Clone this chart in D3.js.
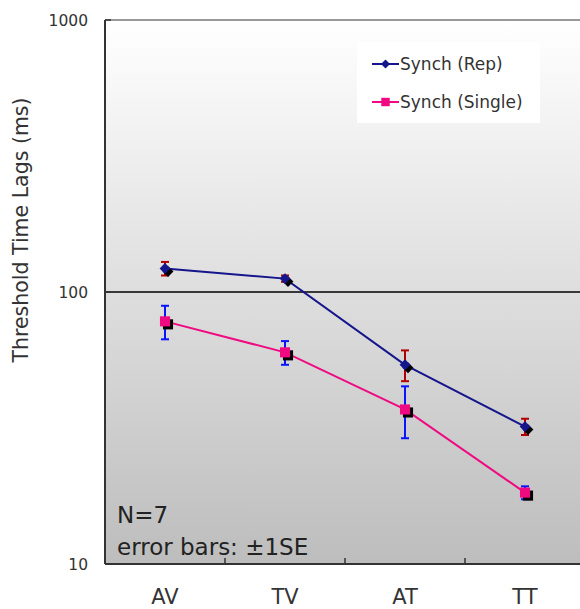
<!DOCTYPE html>
<html>
<head>
<meta charset="utf-8">
<script src="https://cdn.jsdelivr.net/npm/d3@7"></script>
<style>
  body { margin: 0; background: #fff; }
  svg { display: block; font-family: "DejaVu Sans", Verdana, sans-serif; }
</style>
</head>
<body>
<svg id="chart"></svg>
<script>
// values
const categories = ["AV", "TV", "AT", "TT"];
const repMean = [122, 112, 54, 32];
const repSE = [7, 3, 7, 2.2];
const singleMean = [78, 60, 37, 18.3];
const singleSE = [11, 6, 8, 1];
const yTicks = [10, 100, 1000];

const width = 580, height = 609;
const margin = { top: 20, left: 105, bottom: 45 };
const plotRight = 585; // the frame runs off the right edge

const svg = d3.select("#chart")
    .attr("width", width)
    .attr("height", height);

const x = d3.scaleBand()
    .domain(categories)
    .range([margin.left, plotRight]);

const y = d3.scaleLog()
    .domain([10, 1000])
    .range([height - margin.bottom, margin.top]);

const defs = svg.append("defs");
const bg = defs.append("linearGradient")
    .attr("id", "bgGrad")
    .attr("x1", "0%").attr("y1", "0%")
    .attr("x2", "0%").attr("y2", "100%");
bg.append("stop").attr("offset", "0%").attr("stop-color", "#ffffff");
bg.append("stop").attr("offset", "100%").attr("stop-color", "#bdbdbd");

// plot background
svg.append("rect")
    .attr("x", margin.left)
    .attr("y", y(1000))
    .attr("width", plotRight - margin.left)
    .attr("height", y(10) - y(1000))
    .attr("fill", "url(#bgGrad)");

// top border
svg.append("line")
    .attr("x1", margin.left).attr("x2", plotRight)
    .attr("y1", y(1000)).attr("y2", y(1000))
    .attr("stroke", "#777").attr("stroke-width", 1.5);

// gridline at 100
svg.append("line")
    .attr("x1", margin.left).attr("x2", plotRight)
    .attr("y1", y(100)).attr("y2", y(100))
    .attr("stroke", "#000").attr("stroke-width", 1.5);

// y axis
svg.append("line")
    .attr("x1", margin.left).attr("x2", margin.left)
    .attr("y1", y(1000)).attr("y2", y(10))
    .attr("stroke", "#333").attr("stroke-width", 2);

svg.selectAll(".ytick")
    .data(yTicks)
    .enter()
    .append("line")
    .attr("x1", margin.left).attr("x2", margin.left + 6)
    .attr("y1", d => y(d)).attr("y2", d => y(d))
    .attr("stroke", "#333").attr("stroke-width", 1.5);

svg.selectAll(".ylabel")
    .data(yTicks)
    .enter()
    .append("text")
    .attr("x", 88)
    .attr("y", d => y(d))
    .attr("dy", "0.36em")
    .attr("text-anchor", "end")
    .attr("font-size", 15.5)
    .attr("fill", "#333")
    .text(d => d);

svg.append("text")
    .attr("transform", `translate(28,${(95 + 365) / 2}) rotate(-90)`)
    .attr("text-anchor", "middle")
    .attr("font-size", 20.5)
    .attr("fill", "#333")
    .text("Threshold Time Lags (ms)");

// x axis
svg.append("line")
    .attr("x1", margin.left).attr("x2", plotRight)
    .attr("y1", y(10)).attr("y2", y(10))
    .attr("stroke", "#333").attr("stroke-width", 2);

svg.selectAll(".xtick")
    .data(categories.slice(1))
    .enter()
    .append("line")
    .attr("x1", d => x(d)).attr("x2", d => x(d))
    .attr("y1", y(10)).attr("y2", y(10) - 6)
    .attr("stroke", "#333").attr("stroke-width", 1.5);

svg.selectAll(".xlabel")
    .data(categories)
    .enter()
    .append("text")
    .attr("x", d => x(d) + x.bandwidth() / 2)
    .attr("y", 604)
    .attr("text-anchor", "middle")
    .attr("font-size", 21)
    .attr("fill", "#333")
    .text(d => d);

// series
const series = [
    { name: "Synch (Rep)", mean: repMean, se: repSE, color: "#15158c", err: "#b00000", shape: d3.symbolDiamond2, size: 75 },
    { name: "Synch (Single)", mean: singleMean, se: singleSE, color: "#f00a82", err: "#0a14ff", shape: d3.symbolSquare2, size: 130 }
];

const cx = c => x(c) + x.bandwidth() / 2;

series.forEach(s => {
    const pts = categories.map((c, i) => ({ c, v: s.mean[i], e: s.se[i] }));

    svg.append("path")
        .datum(pts)
        .attr("fill", "none")
        .attr("stroke", s.color)
        .attr("stroke-width", 2)
        .attr("d", d3.line().x(d => cx(d.c)).y(d => y(d.v)));

    const eb = svg.append("g").attr("stroke", s.err).attr("stroke-width", 2);
    pts.forEach(d => {
        const x0 = cx(d.c);
        const yt = y(d.v + d.e), yb = y(d.v - d.e);
        eb.append("line").attr("x1", x0).attr("x2", x0).attr("y1", yt).attr("y2", yb);
        eb.append("line").attr("x1", x0 - 4).attr("x2", x0 + 4).attr("y1", yt).attr("y2", yt);
        eb.append("line").attr("x1", x0 - 4).attr("x2", x0 + 4).attr("y1", yb).attr("y2", yb);
    });

    const sym = d3.symbol().type(s.shape).size(s.size);
    // drop shadow
    svg.selectAll(null)
        .data(pts)
        .enter()
        .append("path")
        .attr("transform", d => `translate(${cx(d.c) + 3},${y(d.v) + 3})`)
        .attr("d", sym)
        .attr("fill", "#000");
    svg.selectAll(null)
        .data(pts)
        .enter()
        .append("path")
        .attr("transform", d => `translate(${cx(d.c)},${y(d.v)})`)
        .attr("d", sym)
        .attr("fill", s.color);
});

// legend
const legend = svg.append("g");
legend.append("rect")
    .attr("x", 357).attr("y", 42)
    .attr("width", 183).attr("height", 81)
    .attr("fill", "#fff");

series.forEach((s, i) => {
    const ly = 64 + i * 38;
    legend.append("line")
        .attr("x1", 372).attr("x2", 399)
        .attr("y1", ly).attr("y2", ly)
        .attr("stroke", s.color).attr("stroke-width", 2);
    legend.append("path")
        .attr("transform", `translate(385.5,${ly})`)
        .attr("d", d3.symbol().type(s.shape).size(s.size * 0.7))
        .attr("fill", s.color);
    legend.append("text")
        .attr("x", 400)
        .attr("y", ly)
        .attr("dy", "0.36em")
        .attr("font-size", 17)
        .attr("fill", "#333")
        .text(s.name);
});

// annotation
svg.append("text")
    .attr("x", 117).attr("y", 523)
    .attr("font-size", 23)
    .attr("fill", "#222")
    .text("N=7");
svg.append("text")
    .attr("x", 117).attr("y", 555)
    .attr("font-size", 23)
    .attr("fill", "#222")
    .text("error bars: \u00b11SE");
</script>
</body>
</html>
